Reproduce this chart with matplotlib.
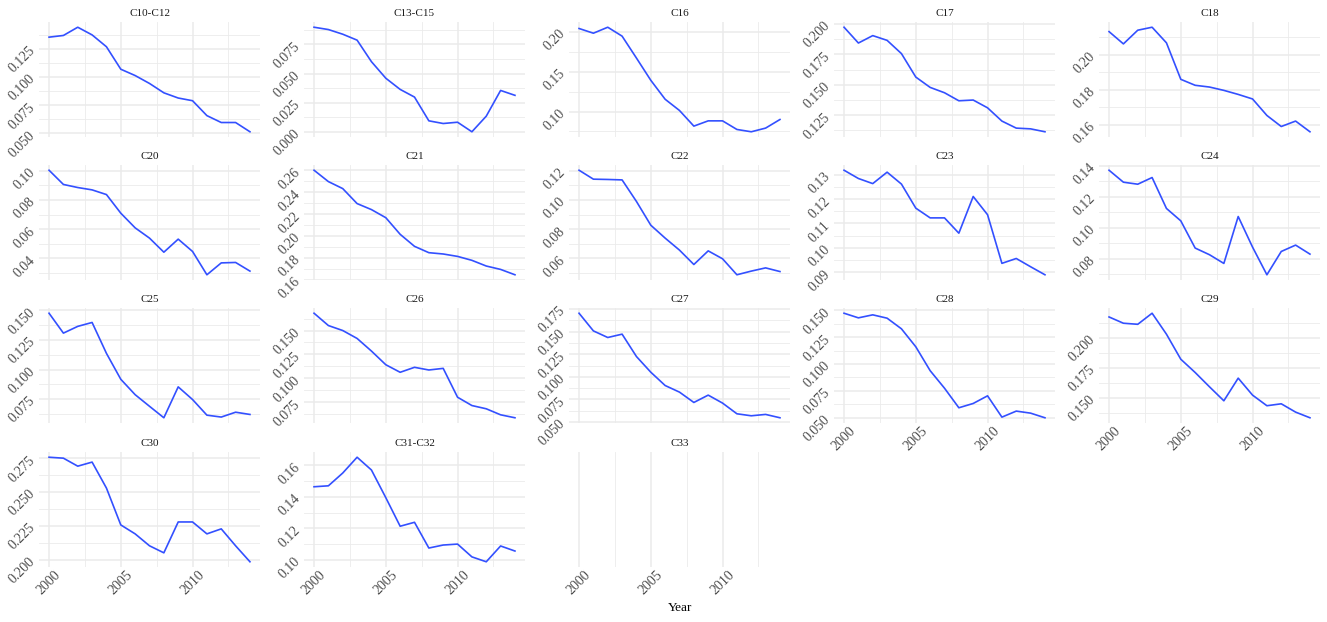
import matplotlib
matplotlib.use("Agg")
import matplotlib.pyplot as plt
from matplotlib.ticker import FixedLocator

# ---------------- data ----------------
years = list(range(2000, 2015))

panel_names = ["C10-C12", "C13-C15", "C16", "C17", "C18",
               "C20", "C21", "C22", "C23", "C24",
               "C25", "C26", "C27", "C28", "C29",
               "C30", "C31-C32", "C33"]

c10_c12 = [0.1353, 0.1368, 0.1441, 0.1373, 0.1268, 0.1069, 0.1013, 0.0943,
           0.0860, 0.0814, 0.0790, 0.0658, 0.0597, 0.0597, 0.0515]
c13_c15 = [0.0898, 0.0878, 0.0838, 0.0787, 0.0602, 0.0460, 0.0364, 0.0298,
           0.0094, 0.0071, 0.0082, 0.0000, 0.0134, 0.0355, 0.0313]
c16 = [0.2042, 0.1983, 0.2058, 0.1946, 0.1671, 0.1392, 0.1154, 0.1013,
       0.0817, 0.0883, 0.0883, 0.0775, 0.0746, 0.0792, 0.0900]
c17 = [0.1973, 0.1843, 0.1904, 0.1865, 0.1756, 0.1563, 0.1478, 0.1434,
       0.1368, 0.1374, 0.1310, 0.1201, 0.1143, 0.1137, 0.1113]
c18 = [0.2131, 0.2061, 0.2139, 0.2156, 0.2067, 0.1859, 0.1825, 0.1815,
       0.1796, 0.1773, 0.1747, 0.1653, 0.1590, 0.1621, 0.1560]
c20 = [0.1002, 0.0905, 0.0884, 0.0868, 0.0836, 0.0709, 0.0609, 0.0539,
       0.0443, 0.0532, 0.0448, 0.0289, 0.0370, 0.0373, 0.0314]
c21 = [0.2600, 0.2496, 0.2432, 0.2295, 0.2240, 0.2166, 0.2014, 0.1904,
       0.1846, 0.1834, 0.1812, 0.1776, 0.1724, 0.1693, 0.1644]
c22 = [0.1202, 0.1141, 0.1139, 0.1136, 0.0989, 0.0827, 0.0739, 0.0657,
       0.0559, 0.0652, 0.0598, 0.0489, 0.0514, 0.0536, 0.0511]
c23 = [0.1319, 0.1285, 0.1264, 0.1311, 0.1262, 0.1163, 0.1123, 0.1123,
       0.1060, 0.1211, 0.1136, 0.0936, 0.0956, 0.0922, 0.0889]
c24 = [0.1370, 0.1293, 0.1280, 0.1323, 0.1124, 0.1044, 0.0869, 0.0826,
       0.0770, 0.1072, 0.0875, 0.0697, 0.0847, 0.0888, 0.0830]
c25 = [0.1476, 0.1308, 0.1365, 0.1398, 0.1137, 0.0918, 0.0788, 0.0690,
       0.0593, 0.0854, 0.0747, 0.0615, 0.0599, 0.0640, 0.0621]
c26 = [0.1681, 0.1552, 0.1500, 0.1417, 0.1285, 0.1142, 0.1063, 0.1115,
       0.1087, 0.1104, 0.0802, 0.0715, 0.0681, 0.0618, 0.0587]
c27 = [0.1702, 0.1507, 0.1434, 0.1471, 0.1224, 0.1051, 0.0904, 0.0831,
       0.0717, 0.0798, 0.0710, 0.0592, 0.0570, 0.0585, 0.0548]
c28 = [0.1472, 0.1429, 0.1457, 0.1426, 0.1327, 0.1160, 0.0938, 0.0775,
       0.0593, 0.0633, 0.0704, 0.0506, 0.0562, 0.0543, 0.0500]
c29 = [0.2171, 0.2119, 0.2110, 0.2202, 0.2028, 0.1820, 0.1710, 0.1591,
       0.1475, 0.1663, 0.1522, 0.1434, 0.1450, 0.1381, 0.1334]
c30 = [0.2757, 0.2750, 0.2691, 0.2721, 0.2529, 0.2257, 0.2191, 0.2103,
       0.2051, 0.2279, 0.2279, 0.2191, 0.2228, 0.2103, 0.1985]
c31_c32 = [0.1463, 0.1469, 0.1550, 0.1650, 0.1569, 0.1394, 0.1213, 0.1238,
           0.1075, 0.1094, 0.1100, 0.1019, 0.0988, 0.1088, 0.1056]
c33 = []

series = [c10_c12, c13_c15, c16, c17, c18, c20, c21, c22, c23, c24,
          c25, c26, c27, c28, c29, c30, c31_c32, c33]

y_ticks = [
    ["0.050", "0.075", "0.100", "0.125"],
    ["0.000", "0.025", "0.050", "0.075"],
    ["0.10", "0.15", "0.20"],
    ["0.125", "0.150", "0.175", "0.200"],
    ["0.16", "0.18", "0.20"],
    ["0.04", "0.06", "0.08", "0.10"],
    ["0.16", "0.18", "0.20", "0.22", "0.24", "0.26"],
    ["0.06", "0.08", "0.10", "0.12"],
    ["0.09", "0.10", "0.11", "0.12", "0.13"],
    ["0.08", "0.10", "0.12", "0.14"],
    ["0.075", "0.100", "0.125", "0.150"],
    ["0.075", "0.100", "0.125", "0.150"],
    ["0.050", "0.075", "0.100", "0.125", "0.150", "0.175"],
    ["0.050", "0.075", "0.100", "0.125", "0.150"],
    ["0.150", "0.175", "0.200"],
    ["0.200", "0.225", "0.250", "0.275"],
    ["0.10", "0.12", "0.14", "0.16"],
    [],
]

x_major = [2000, 2005, 2010]
x_minor = [2002.5, 2007.5, 2012.5]
x_label = "Year"

# ---------------- style ----------------
FONT = ["Liberation Serif", "DejaVu Serif"]
plt.rcParams["font.family"] = FONT
LINE_COLOR = "#3350FF"
GRID = "#EBEBEB"
TICK_FS = 10

W, H = 1327, 622
fig = plt.figure(figsize=(W / 100, H / 100), dpi=100)
fig.patch.set_facecolor("white")

col_left = [39, 304, 569, 834, 1099]
row_top = [22, 165, 308, 452]
pw, ph = 221, 115

ncol = 5
n = len(panel_names)
for i, name in enumerate(panel_names):
    r, c = divmod(i, ncol)
    left = col_left[c] / W
    bottom = 1 - (row_top[r] + ph) / H
    ax = fig.add_axes([left, bottom, pw / W, ph / H])
    for s in ax.spines.values():
        s.set_visible(False)
    ax.set_facecolor("white")

    xpad = 0.05 * (years[-1] - years[0])
    ax.set_xlim(years[0] - xpad, years[-1] + xpad)
    ax.xaxis.set_major_locator(FixedLocator(x_major))
    ax.xaxis.set_minor_locator(FixedLocator(x_minor))

    vals = series[i]
    if vals:
        ax.plot(years[:len(vals)], vals, color=LINE_COLOR, lw=1.2,
                solid_joinstyle="round", zorder=3)
        lo, hi = min(vals), max(vals)
        pad = 0.05 * (hi - lo)
        ax.set_ylim(lo - pad, hi + pad)
        tv = [float(t) for t in y_ticks[i]]
        ax.yaxis.set_major_locator(FixedLocator(tv))
        step = tv[1] - tv[0]
        minors = [tv[0] - step / 2] + [t + step / 2 for t in tv]
        ax.yaxis.set_minor_locator(FixedLocator(minors))
        ax.set_yticklabels(y_ticks[i])
        ax.grid(True, which="major", axis="y", color=GRID, lw=1.1, zorder=0)
        ax.grid(True, which="minor", axis="y", color=GRID, lw=0.6, zorder=0)
    else:
        ax.set_ylim(0, 1)
        ax.set_yticks([])

    ax.grid(True, which="major", axis="x", color=GRID, lw=1.1, zorder=0)
    ax.grid(True, which="minor", axis="x", color=GRID, lw=0.6, zorder=0)
    ax.set_axisbelow(True)

    ax.tick_params(which="both", length=0)
    ax.tick_params(axis="y", labelsize=TICK_FS, labelcolor="#4D4D4D", pad=4.5)
    for lab in ax.get_yticklabels():
        lab.set_rotation(45)
        lab.set_ha("right")
        lab.set_va("center")
        lab.set_rotation_mode("anchor")

    # x labels only on panels with nothing below
    has_below = (i + ncol) < n
    if has_below:
        ax.set_xticklabels([])
    else:
        ax.set_xticklabels([str(x) for x in x_major])
        ax.tick_params(axis="x", labelsize=TICK_FS, labelcolor="#4D4D4D", pad=1)
        for lab in ax.get_xticklabels():
            lab.set_rotation(45)
            lab.set_ha("center")
            lab.set_va("top")

    ax.set_title(name, fontsize=8, color="#1A1A1A", pad=4)

fig.text(680 / W, 1 - 608 / H, x_label, ha="center", va="center",
         fontsize=9.5, color="black")

fig.savefig("out.png", dpi=100, facecolor="white")
